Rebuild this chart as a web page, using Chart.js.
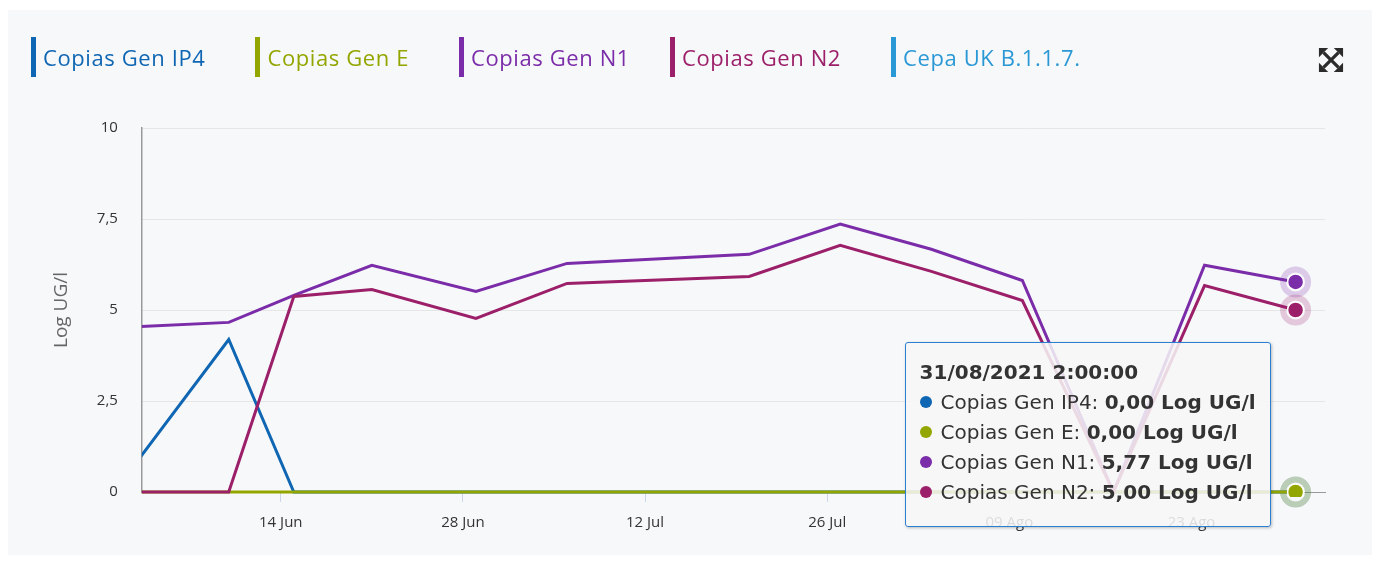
<!DOCTYPE html>
<html lang="es">
<head>
<meta charset="utf-8">
<script src="https://cdn.jsdelivr.net/npm/chart.js@4.4.1/dist/chart.umd.min.js"></script>
<style>
  html, body { margin: 0; padding: 0; background: #ffffff; }
  #panel { position: absolute; left: 8px; top: 10px; width: 1364px; height: 545px; background: #f7f8fa; }
  #wrap { position: absolute; left: 0; top: 0; width: 1380px; height: 563px; }
  #leyenda { position: absolute; left: 31px; top: 37px; display: flex; font-family: "Open Sans", sans-serif; font-size: 22px; letter-spacing: 0.6px; }
  #leyenda span { border-left: 5px solid; padding-left: 7px; height: 40px; line-height: 40px; margin-right: 50px; white-space: nowrap; }
  #leyenda span:nth-child(3) { margin-right: 40px; }
  #expandir { position: absolute; left: 1318px; top: 47px; }
  #tooltip {
    position: absolute; background: rgba(247, 247, 247, 0.86); border: 1.5px solid #2a7fd0; border-radius: 3px;
    box-shadow: 1px 1px 3px rgba(0,0,0,0.25); padding: 14px 14px 19px 14px;
    font-family: "DejaVu Sans", sans-serif; font-size: 20px; line-height: 30px; color: #333; white-space: nowrap; pointer-events: none;
  }
  #tooltip .punto { display: inline-block; width: 12px; height: 12px; border-radius: 50%; margin-right: 9px; vertical-align: 1px; }
</style>
</head>
<body>
<div id="panel"></div>
<div id="wrap"><canvas id="chartCopias"></canvas></div>
<div id="leyenda"></div>
<svg id="expandir" width="26" height="26" viewBox="0 0 28 28">
  <g stroke="#2b2b2b" stroke-width="3.5"><line x1="6" y1="6" x2="22" y2="22"/><line x1="22" y1="6" x2="6" y2="22"/></g>
  <g fill="#2b2b2b"><polygon points="1,1 11,1 1,11"/><polygon points="27,1 17,1 27,11"/><polygon points="1,27 11,27 1,17"/><polygon points="27,27 17,27 27,17"/></g>
</svg>
<div id="tooltip" style="display:none"></div>
<script>
// Datos
const fechas = [
  "03/06/2021 2:00:00", "10/06/2021 2:00:00", "15/06/2021 2:00:00", "21/06/2021 2:00:00",
  "29/06/2021 2:00:00", "06/07/2021 2:00:00", "20/07/2021 2:00:00", "27/07/2021 2:00:00",
  "03/08/2021 2:00:00", "10/08/2021 2:00:00", "17/08/2021 2:00:00", "24/08/2021 2:00:00",
  "31/08/2021 2:00:00"
];
const copiasIP4 = [0.86, 4.19, 0, 0, 0, 0, 0, 0, 0, 0, 0, 0, 0];
const copiasE   = [0, 0, 0, 0, 0, 0, 0, 0, 0, 0, 0, 0, 0];
const copiasN1  = [4.54, 4.66, 5.40, 6.23, 5.51, 6.28, 6.53, 7.36, 6.67, 5.81, 0, 6.23, 5.77];
const copiasN2  = [0, 0, 5.37, 5.56, 4.77, 5.73, 5.92, 6.78, 6.06, 5.26, 0, 5.67, 5.00];
const cepaUK    = [];
const ticksX = ["14/06/2021", "28/06/2021", "12/07/2021", "26/07/2021", "09/08/2021", "23/08/2021"];
const ticksY = [0, 2.5, 5, 7.5, 10];
const mesesES = ["Ene", "Feb", "Mar", "Abr", "May", "Jun", "Jul", "Ago", "Sep", "Oct", "Nov", "Dic"];

const series = [
  { label: "Copias Gen IP4", color: "#0f66b3", data: copiasIP4 },
  { label: "Copias Gen E", color: "#93a600", data: copiasE },
  { label: "Copias Gen N1", color: "#7b2ca8", data: copiasN1 },
  { label: "Copias Gen N2", color: "#9c1f69", data: copiasN2 },
  { label: "Cepa UK B.1.1.7.", color: "#2b98d6", data: cepaUK },
];

function aMs(s) {
  const [d, m, resto] = s.split("/");
  return Date.UTC(+resto.slice(0, 4), +m - 1, +d);
}
function conAlfa(hex, a) {
  const n = parseInt(hex.slice(1), 16);
  return `rgba(${n >> 16},${(n >> 8) & 255},${n & 255},${a})`;
}
const formatoNum = v => v.toFixed(2).replace(".", ",");
const DIA = 86400000;

// leyenda en html (marcador vertical)
const leyenda = document.getElementById("leyenda");
series.forEach(s => {
  const el = document.createElement("span");
  el.textContent = s.label;
  el.style.color = s.color;
  el.style.borderColor = s.color;
  leyenda.appendChild(el);
});

// halo alrededor de los puntos activos
const haloPlugin = {
  id: "halo",
  afterDatasetDraw(chart, args) {
    const ctx = chart.ctx;
    chart.getActiveElements().filter(a => a.datasetIndex === args.index).forEach(a => {
      const { x, y } = a.element;
      ctx.save();
      ctx.beginPath();
      ctx.arc(x, y, 15.5, 0, Math.PI * 2);
      ctx.arc(x, y, 9.5, 0, Math.PI * 2, true);
      ctx.fillStyle = conAlfa(series[args.index].color, 0.22);
      ctx.fill();
      ctx.restore();
    });
  },
};

function dibujarTooltip(context) {
  const { chart, tooltip } = context;
  const el = document.getElementById("tooltip");
  if (tooltip.opacity === 0 || !tooltip.dataPoints || !tooltip.dataPoints.length) {
    el.style.display = "none";
    return;
  }
  const puntos = tooltip.dataPoints.slice().sort((a, b) => a.datasetIndex - b.datasetIndex);
  let html = `<div style="font-weight:bold">${tooltip.title[0]}</div>`;
  puntos.forEach(p => {
    const s = series[p.datasetIndex];
    html += `<div><span class="punto" style="background:${s.color}"></span>${s.label}: <b>${formatoNum(p.parsed.y)} Log UG/l</b></div>`;
  });
  el.innerHTML = html;
  el.style.display = "block";
  const ceroY = chart.scales.y.getPixelForValue(0);
  el.style.left = (chart.canvas.offsetLeft + tooltip.caretX - 25 - el.offsetWidth) + "px";
  el.style.top = (chart.canvas.offsetTop + ceroY + 35 - el.offsetHeight) + "px";
}

const chart = new Chart(document.getElementById("chartCopias"), {
  type: "line",
  data: {
    datasets: series.map((s, i) => ({
      label: s.label,
      data: s.data.map((v, j) => ({ x: aMs(fechas[j]), y: v })),
      order: -i, // las ultimas series se pintan encima
      clip: { left: 0, top: 5, right: 5, bottom: 5 },
      borderColor: s.color,
      backgroundColor: s.color,
      borderWidth: 3,
      tension: 0,
      pointRadius: 0,
      pointHoverRadius: 8,
      pointHoverBorderWidth: 1.5,
      pointHoverBorderColor: "#ffffff",
      pointHoverBackgroundColor: s.color,
    })),
  },
  options: {
    responsive: true,
    maintainAspectRatio: false,
    animation: false,
    layout: { padding: { top: 128, right: 55, bottom: 19, left: 50 } },
    interaction: { mode: "index", intersect: false },
    plugins: {
      legend: { display: false },
      tooltip: {
        enabled: false,
        external: dibujarTooltip,
        callbacks: { title: items => fechas[items[0].dataIndex] },
      },
    },
    scales: {
      x: {
        type: "linear",
        min: aMs(fechas[0]) + 0.32 * DIA,
        max: aMs("02/09/2021") + 0.26 * DIA,
        afterBuildTicks: scale => { scale.ticks = ticksX.map(t => ({ value: aMs(t) })); },
        grid: { drawOnChartArea: false, drawTicks: true, tickLength: 10, tickColor: "#ccd6eb" },
        border: { color: "#999999", width: 1 },
        ticks: {
          autoSkip: false,
          maxRotation: 0,
          padding: 12,
          color: "#333333",
          font: { family: "Open Sans", size: 15 },
          callback: v => {
            const d = new Date(v);
            return String(d.getUTCDate()).padStart(2, "0") + " " + mesesES[d.getUTCMonth()];
          },
        },
      },
      y: {
        min: 0,
        max: 10,
        afterBuildTicks: scale => { scale.ticks = ticksY.map(v => ({ value: v })); },
        grid: { color: "#e6e6e6", drawTicks: false },
        border: { color: "#999999", width: 1.5 },
        ticks: {
          padding: 24,
          color: "#333333",
          font: { family: "Open Sans", size: 15 },
          callback: v => String(v).replace(".", ","),
        },
        title: {
          display: true,
          text: "Log UG/l",
          color: "#666666",
          font: { family: "Open Sans", size: 19 },
          padding: { top: 0, bottom: 0 },
        },
      },
    },
  },
  plugins: [haloPlugin],
});

// punto final resaltado, como en la captura
const ultimo = fechas.length - 1;
const activos = [0, 1, 2, 3].map(d => ({ datasetIndex: d, index: ultimo }));
chart.setActiveElements(activos);
chart.tooltip.setActiveElements(activos, { x: 0, y: 0 });
chart.update();
</script>
</body>
</html>
